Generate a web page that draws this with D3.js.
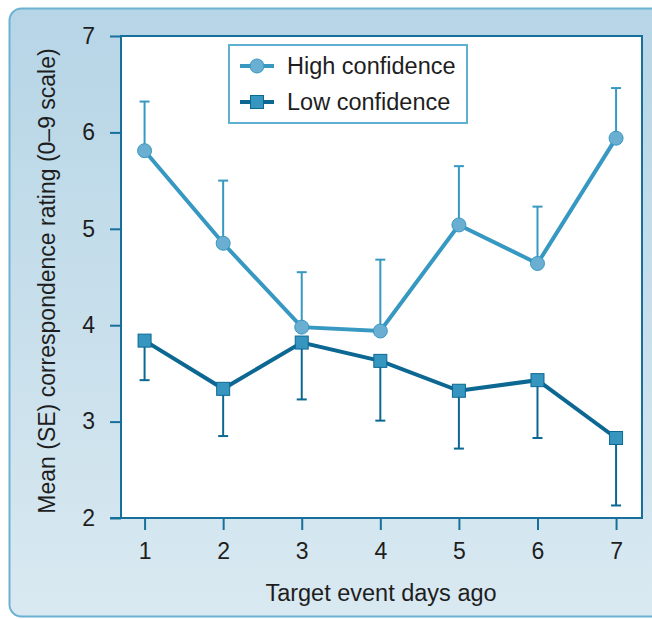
<!DOCTYPE html>
<html>
<head>
<meta charset="utf-8">
<script src="https://cdn.jsdelivr.net/npm/d3@7"></script>
<style>
  html, body { margin: 0; padding: 0; background: #fff; }
  svg { display: block; font-family: "Liberation Sans", Arial, sans-serif; }
</style>
</head>
<body>
<script>
// data
var days = [1, 2, 3, 4, 5, 6, 7];
var highMean = [5.81, 4.85, 3.98, 3.94, 5.04, 4.64, 5.94];
var highSE = [0.51, 0.65, 0.57, 0.74, 0.61, 0.59, 0.52];
var lowMean = [3.84, 3.34, 3.82, 3.63, 3.32, 3.43, 2.83];
var lowSE = [0.41, 0.49, 0.59, 0.62, 0.60, 0.60, 0.70];
var yTicks = [2, 3, 4, 5, 6, 7];

var width = 652, height = 619;
var plot = { left: 121, top: 36, right: 642, bottom: 518 };
var fontSize = 23;
var textColor = '#1e1e1e';

var svg = d3.select('body').append('svg').attr('width', width).attr('height', height);

var defs = svg.append('defs');
var grad = defs.append('linearGradient').attr('id', 'bg').attr('x1', 0).attr('y1', 0).attr('x2', 0).attr('y2', 1);
grad.append('stop').attr('offset', '0%').attr('stop-color', '#b6d5e6');
grad.append('stop').attr('offset', '100%').attr('stop-color', '#d9e9f1');

// panel
svg.append('rect')
  .attr('x', 9.5).attr('y', 8.5)
  .attr('width', 680).attr('height', 608)
  .attr('rx', 12)
  .attr('fill', 'url(#bg)')
  .attr('stroke', '#6cb1d2')
  .attr('stroke-width', 2);

var x = d3.scaleLinear().domain([0.7, 7.33]).range([plot.left, plot.right]);
var y = d3.scaleLinear().domain([2, 7]).range([plot.bottom, plot.top]);

// plot area
svg.append('rect')
  .attr('x', plot.left).attr('y', plot.top)
  .attr('width', plot.right - plot.left).attr('height', plot.bottom - plot.top)
  .attr('fill', '#fff')
  .attr('stroke', '#17709b')
  .attr('stroke-width', 2);

var axisColor = '#17709b';

var yAxis = svg.append('g')
  .attr('transform', 'translate(' + plot.left + ',0)')
  .call(d3.axisLeft(y).tickValues(yTicks).tickSize(11).tickPadding(15).tickFormat(d3.format('d')));
yAxis.select('.domain').remove();
yAxis.selectAll('line').attr('stroke', axisColor).attr('stroke-width', 2);
yAxis.selectAll('text').attr('font-size', fontSize).attr('fill', textColor).attr('font-family', '"Liberation Sans", Arial, sans-serif');

var xAxis = svg.append('g')
  .attr('transform', 'translate(0,' + plot.bottom + ')')
  .call(d3.axisBottom(x).tickValues(days).tickSize(12).tickPadding(13).tickFormat(d3.format('d')));
xAxis.select('.domain').remove();
xAxis.selectAll('line').attr('stroke', axisColor).attr('stroke-width', 2);
xAxis.selectAll('text').attr('font-size', fontSize).attr('fill', textColor).attr('font-family', '"Liberation Sans", Arial, sans-serif');

// extend the bottom axis line to meet the tick at 2
svg.append('line')
  .attr('x1', plot.left - 11).attr('x2', plot.left)
  .attr('y1', plot.bottom).attr('y2', plot.bottom)
  .attr('stroke', axisColor).attr('stroke-width', 2);

// axis titles
svg.append('text')
  .attr('x', 381).attr('y', 601)
  .attr('text-anchor', 'middle')
  .attr('font-size', fontSize + 0.5).attr('fill', textColor)
  .text('Target event days ago');

svg.append('text')
  .attr('transform', 'translate(55,281) rotate(-90)')
  .attr('text-anchor', 'middle')
  .attr('font-size', fontSize).attr('fill', textColor)
  .text('Mean (SE) correspondence rating (0\u20139 scale)');

var highColor = '#3798c2', highFill = '#6aafd1';
var lowColor = '#0c6893', lowFill = '#3796bf';

var high = days.map(function (d, i) { return { d: d, m: highMean[i], se: highSE[i] }; });
var low = days.map(function (d, i) { return { d: d, m: lowMean[i], se: lowSE[i] }; });

var line = d3.line().x(function (p) { return x(p.d); }).y(function (p) { return y(p.m); });

// error bars: high goes up, low goes down
function errorBars(data, color, dir) {
  var g = svg.append('g').attr('stroke', color).attr('stroke-width', 2);
  g.selectAll('line.v').data(data).enter().append('line')
    .attr('class', 'v')
    .attr('x1', function (p) { return x(p.d); })
    .attr('x2', function (p) { return x(p.d); })
    .attr('y1', function (p) { return y(p.m); })
    .attr('y2', function (p) { return y(p.m + dir * p.se); });
  g.selectAll('line.cap').data(data).enter().append('line')
    .attr('class', 'cap')
    .attr('x1', function (p) { return x(p.d) - 5; })
    .attr('x2', function (p) { return x(p.d) + 5; })
    .attr('y1', function (p) { return y(p.m + dir * p.se); })
    .attr('y2', function (p) { return y(p.m + dir * p.se); });
}
errorBars(high, highColor, 1);
errorBars(low, lowColor, -1);

svg.append('path').datum(low).attr('d', line)
  .attr('fill', 'none').attr('stroke', lowColor).attr('stroke-width', 4);
svg.append('path').datum(high).attr('d', line)
  .attr('fill', 'none').attr('stroke', highColor).attr('stroke-width', 4);

svg.selectAll('rect.low').data(low).enter().append('rect')
  .attr('class', 'low')
  .attr('x', function (p) { return x(p.d) - 6.5; })
  .attr('y', function (p) { return y(p.m) - 6.5; })
  .attr('width', 13).attr('height', 13)
  .attr('fill', lowFill).attr('stroke', lowColor).attr('stroke-width', 1);

svg.selectAll('circle.high').data(high).enter().append('circle')
  .attr('class', 'high')
  .attr('cx', function (p) { return x(p.d); })
  .attr('cy', function (p) { return y(p.m); })
  .attr('r', 7)
  .attr('fill', highFill).attr('stroke', highColor).attr('stroke-width', 1);

// legend
var lg = svg.append('g');
lg.append('rect')
  .attr('x', 229).attr('y', 45).attr('width', 238).attr('height', 78)
  .attr('fill', '#fff').attr('stroke', '#5fb0d1').attr('stroke-width', 2);

lg.append('line').attr('x1', 240).attr('x2', 274).attr('y1', 66).attr('y2', 66)
  .attr('stroke', highColor).attr('stroke-width', 4);
lg.append('circle').attr('cx', 257).attr('cy', 66).attr('r', 7)
  .attr('fill', highFill).attr('stroke', highColor).attr('stroke-width', 1);
lg.append('text').attr('x', 287).attr('y', 74).attr('font-size', fontSize + 0.5).attr('fill', textColor).text('High confidence');

lg.append('line').attr('x1', 240).attr('x2', 274).attr('y1', 102).attr('y2', 102)
  .attr('stroke', lowColor).attr('stroke-width', 4);
lg.append('rect').attr('x', 250.5).attr('y', 95.5).attr('width', 13).attr('height', 13)
  .attr('fill', lowFill).attr('stroke', lowColor).attr('stroke-width', 1);
lg.append('text').attr('x', 287).attr('y', 110).attr('font-size', fontSize + 0.5).attr('fill', textColor).text('Low confidence');
</script>
</body>
</html>
